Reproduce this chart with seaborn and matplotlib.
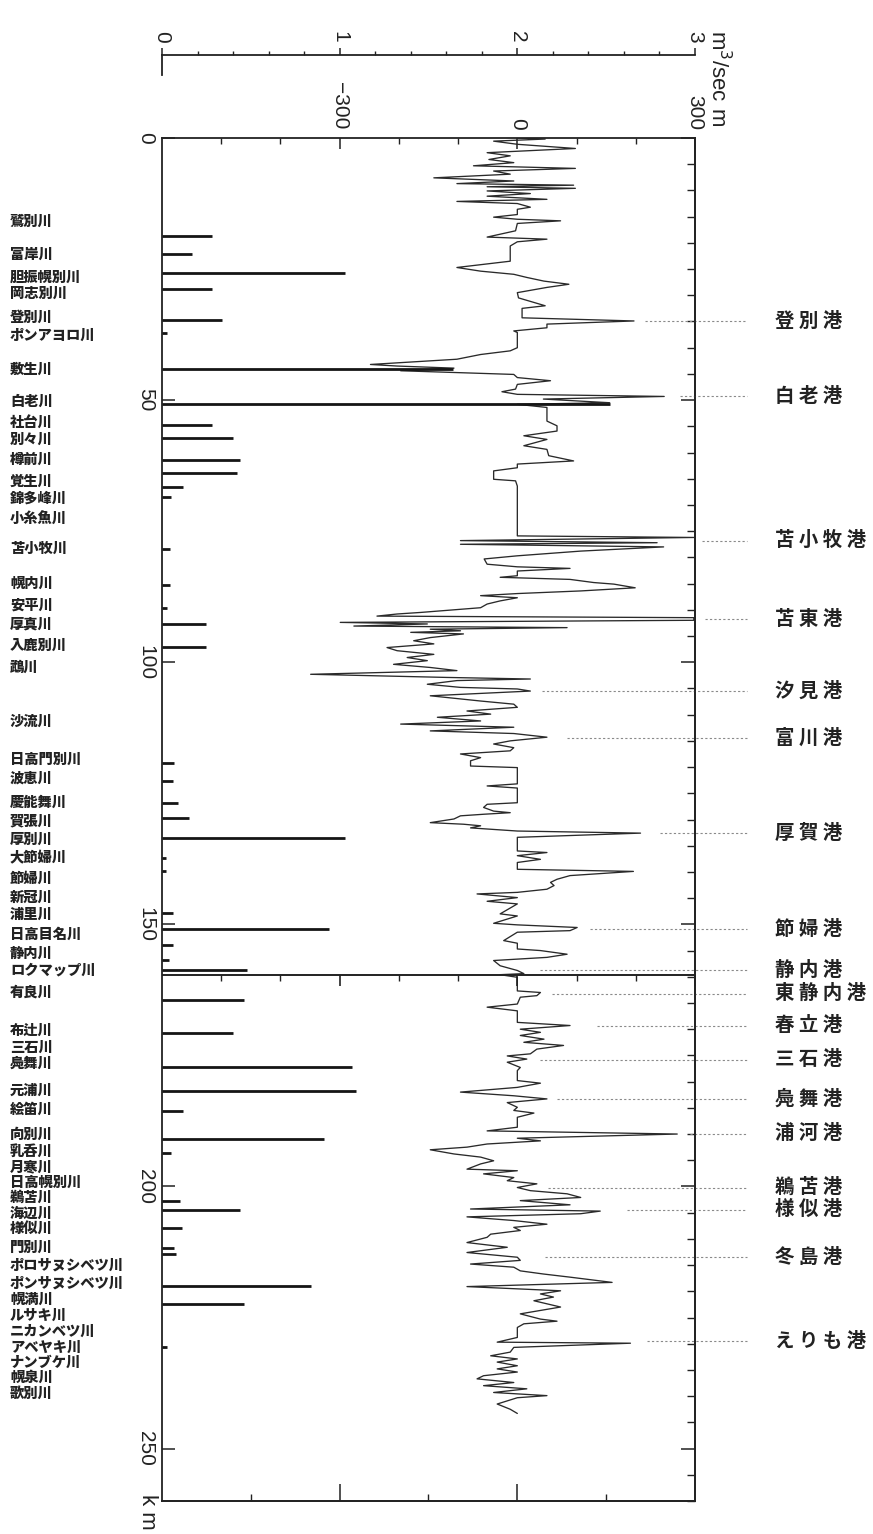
import numpy as np
import pandas as pd
import matplotlib
matplotlib.use("Agg")
import matplotlib.pyplot as plt
import matplotlib.transforms as mtransforms
from matplotlib.markers import TICKDOWN
import seaborn as sns

# ---------------- data ----------------
# shoreline change (m) along the coast (km)
coast_km = [0.0, 0.2, 0.6, 1.2, 2.0, 2.8, 3.4, 4.1, 4.7, 5.3, 5.8, 6.3, 6.9, 7.6, 8.2, 8.7, 9.0, 9.3, 9.6,
            10.1, 10.6, 11.1, 11.7, 12.1, 12.5, 13.2, 13.6, 14.6, 15.1, 15.5, 15.8, 16.3, 17.7, 18.9, 19.3,
            19.8, 20.6, 23.5, 24.7, 25.4, 26.0, 26.6, 27.3, 27.9, 28.5, 29.5, 30.5, 32.0, 32.5, 34.3, 34.9,
            35.5, 36.2, 36.8, 37.1, 40.0, 40.6, 41.3, 42.2, 43.2, 43.5, 43.9, 44.4, 45.1, 45.7, 46.3, 47.0,
            47.9, 48.4, 48.9, 49.3, 49.8, 50.5, 50.8, 51.4, 54.0, 54.9, 55.9, 56.8, 57.5, 58.7, 59.4, 60.6,
            61.6, 62.2, 62.9, 63.5, 65.1, 65.4, 66.4, 75.9, 76.2, 76.8, 77.2, 77.5, 78.0, 78.8, 79.7, 80.3,
            81.3, 81.8, 82.1, 82.6, 83.5, 83.8, 84.2, 84.8, 85.1, 85.8, 86.4, 86.9, 87.3, 87.7, 88.3, 88.9,
            89.6, 90.5, 90.8, 91.2, 91.5, 92.0, 92.4, 92.7, 93.1, 93.4, 93.7, 94.0, 94.3, 94.6, 95.3, 95.9,
            96.5, 97.2, 97.8, 98.5, 99.1, 99.7, 100.4, 101.0, 101.6, 102.3, 102.9, 103.2, 103.5, 104.2,
            104.8, 105.1, 105.5, 106.4, 107.4, 108.0, 108.6, 109.3, 109.9, 110.5, 111.2, 111.8, 112.4,
            113.1, 113.6, 114.3, 115.0, 115.6, 116.3, 116.9, 117.5, 118.2, 118.8, 119.8, 120.1, 123.2,
            123.6, 124.0, 126.8, 127.1, 127.7, 128.4, 128.7, 129.0, 129.3, 129.9, 130.6, 130.9, 131.2,
            131.6, 132.2, 132.6, 133.4, 136.0, 136.3, 136.9, 137.6, 138.2, 139.5, 139.9, 140.7, 141.4,
            142.0, 142.6, 143.3, 143.9, 144.2, 144.9, 145.6, 146.1, 148.0, 148.4, 149.8, 150.1, 150.6,
            151.2, 151.5, 153.1, 153.6, 154.7, 155.0, 155.7, 156.3, 156.9, 157.9, 158.8, 159.4, 159.6,
            160.1, 162.7, 163.0, 163.6, 163.9, 165.2, 165.8, 166.5, 168.7, 169.3, 170.0, 170.6, 171.2,
            171.9, 172.5, 173.1, 173.8, 174.7, 175.1, 175.7, 176.3, 177.3, 177.9, 179.8, 180.3, 181.1,
            182.0, 182.7, 183.3, 184.0, 184.9, 185.5, 186.0, 186.8, 188.7, 189.4, 190.0, 190.8, 191.3,
            191.9, 192.5, 193.0, 193.8, 194.4, 195.1, 195.7, 196.7, 197.0, 197.6, 198.3, 198.9, 199.5,
            200.2, 200.8, 201.4, 202.1, 202.7, 203.5, 204.3, 204.7, 205.2, 205.8, 206.5, 207.2, 207.8,
            208.4, 209.1, 209.7, 210.7, 211.6, 212.6, 213.5, 214.1, 214.8, 215.4, 216.1, 216.7, 217.3,
            218.3, 219.1, 219.9, 220.5, 221.1, 221.8, 223.0, 224.3, 225.3, 225.7, 226.2, 226.9, 228.8,
            229.7, 229.9, 230.7, 231.6, 232.3, 232.9, 233.5, 234.2, 234.8, 235.4, 236.1, 236.7, 237.4,
            238.0, 238.6, 239.3, 239.9, 240.3, 241.5, 242.5, 243.3]
coast_m = [0, 47, -40, 0, 98, -51, -12, -48, -6, -74, 98, -40, -12, -141, -6, -102, 95, -51, 98,
           -51, 22, -51, 50, -102, 0, 22, 0, 0, -40, 0, 73, 0, -3, -51, 50,
           0, -12, -12, -102, -62, -6, 16, 45, 87, 50, 0, 2, 47, 8, 8, 197,
           50, 50, -6, 0, 0, -12, -62, -102, -248, -203, -107, -197, -6, 0, 56, 0,
           -3, -26, 0, 248, 44, 156, 0, 50, 50, 67, 67, 11, 50, 11, 50, 53,
           95, 0, 0, -40, -40, -3, 0, 0, 298, -96, 236, -96, 247, 107, 0, -56,
           -51, 0, 89, 0, 0, -29, 89, 129, 163, 199, 107, 0, -62, 0, -29, -51,
           -62, -163, -203, -237, 298, 298, -299, -152, -276, 84, -147, -96, -180, -91, -147, -175,
           -141, -220, -203, -141, -186, -152, -209, -147, -102, -349, -119, 22, -102, -152,
           -96, 0, 22, -147, -62, -6, 0, -85, -45, -135, -62, -197, -6,
           -147, -6, 50, -12, -40, -6, -12, -96, -62, -79, -79, 0, 0,
           -51, 0, 0, -51, -57, -40, -12, -57, -96, -107, -147, -91, -62,
           -79, 0, 208, 0, 0, 50, 0, 39, 0, 0, 196, 89, 67,
           56, 62, 50, 0, -68, 0, -51, 0, -29, 0, -40, 0, 101,
           89, 0, -23, 0, 0, 39, 84, 50, -40, -29, 0, 11, -29,
           0, 0, 39, 33, 5, 0, -51, 0, 0, 89, 5, 39, 5,
           45, 11, 78, 33, 22, -17, 16, -17, 5, 0, 0, 39, 0,
           -96, -6, 50, -17, 0, -6, 28, 0, 0, -51, 270, 0, 39,
           -51, -85, -147, -107, -62, -40, -62, -85, 0, -57, -6, -17, 33,
           0, 22, 84, 107, 5, 89, -79, 140, 107, -85, -6, 50, -6,
           5, -45, -51, -85, -17, -85, 0, 5, -79, -6, 5, 44, 89,
           160, -85, 73, 39, 61, 28, 73, 5, 39, 67, 11, 0, 0,
           -34, 191, -6, -12, -45, 0, -34, 0, -34, 0, -57, -68, -6,
           -57, 16, -40, 50, 0, -34, -12, 0]

# river discharge (m3/sec) at river-mouth position (km)
river_km = [18.7, 22.1, 25.7, 28.8, 34.7, 37.2, 44.1, 50.7, 54.7, 57.2, 61.4, 63.9, 66.6, 68.5, 78.4,
            85.2, 89.6, 92.7, 97.1, 119.2, 122.6, 126.8, 129.7, 133.5, 137.3, 139.8, 147.8, 150.8, 153.9,
            156.8, 158.7, 164.4, 170.7, 177.3, 181.7, 185.7, 190.9, 193.6, 202.7, 204.4, 207.9, 211.7,
            212.8, 218.9, 222.4, 230.7]
river_q = [0.28, 0.17, 1.03, 0.28, 0.34, 0.03, 1.64, 2.52, 0.28, 0.40, 0.44, 0.42, 0.12, 0.05, 0.045,
           0.045, 0.03, 0.25, 0.25, 0.07, 0.06, 0.09, 0.15, 1.03, 0.02, 0.02, 0.06, 0.94, 0.06,
           0.04, 0.48, 0.46, 0.40, 1.07, 1.09, 0.12, 0.91, 0.05, 0.10, 0.44, 0.11, 0.07,
           0.08, 0.84, 0.46, 0.03]

river_names = ['鷲別川', '富岸川', '胆振幌別川', '岡志別川', '登別川', 'ポンアヨロ川', '敷生川', '白老川',
               '社台川', '別々川', '樽前川', '覚生川', '錦多峰川', '小糸魚川', '苫小牧川', '幌内川', '安平川',
               '厚真川', '入鹿別川', '鵡川', '沙流川', '日高門別川', '波恵川', '慶能舞川', '賀張川', '厚別川',
               '大節婦川', '節婦川', '新冠川', '浦里川', '日高目名川', '静内川', 'ロクマップ川', '有良川',
               '布辻川', '三石川', '鳧舞川', '元浦川', '絵笛川', '向別川', '乳呑川', '月寒川', '日高幌別川',
               '鵜苫川', '海辺川', '様似川', '門別川', 'ポロサヌシベツ川', 'ポンサヌシベツ川', '幌満川',
               'ルサキ川', 'ニカンベツ川', 'アベヤキ川', 'ナンブケ川', '幌泉川', '歌別川']
river_label_km = [16.0, 22.3, 26.7, 29.7, 34.3, 37.8, 44.2, 50.3, 54.3, 57.6, 61.4, 65.6, 68.8, 72.8,
                  78.4, 85.0, 89.2, 92.9, 96.9, 101.1, 111.4, 118.6, 122.2, 126.8, 130.4, 133.9, 137.5,
                  141.3, 144.9, 148.2, 152.0, 155.6, 158.8, 163.0, 170.3, 173.5, 176.6, 181.7, 185.4,
                  190.1, 193.4, 196.4, 199.3, 202.1, 205.2, 208.1, 211.7, 215.1, 218.5, 221.6, 224.6,
                  227.7, 230.7, 233.6, 236.5, 239.5]

port_names = ['登別港', '白老港', '苫小牧港', '苫東港', '汐見港', '富川港', '厚賀港', '節婦港', '静内港',
              '東静内港', '春立港', '三石港', '鳧舞港', '浦河港', '鵜苫港', '様似港', '冬島港', 'えりも港']
port_km = [35.0, 49.3, 76.8, 91.8, 105.5, 114.5, 132.6, 150.9, 158.7, 163.2, 169.3, 175.8, 183.4,
           189.9, 200.2, 204.4, 213.5, 229.5]
port_leader_from_m = [216, 275, 312, 317, 42, 84, 241, 123, 39, 59, 135, 39, 67, 292, 51, 186, 47, 219]

section_break_km = 159.6
km_ticks = [0, 50, 100, 150, 200, 250]
m_ticks = [-300, 0, 300]
q_ticks = [0, 1, 2, 3]

# ---------------- style ----------------
sns.set_theme(style="white")
plt.rcParams['font.family'] = ['Liberation Sans', 'Noto Sans CJK JP']
plt.rcParams['axes.linewidth'] = 1.3
INK = '#222222'
CJK = ['Noto Sans CJK JP', 'DejaVu Sans']

W, H = 873, 1534
fig = plt.figure(figsize=(W / 100, H / 100), dpi=100)
fig.patch.set_facecolor('white')

L, R, T, B = 162, 695, 138, 1501
ax = fig.add_axes([L / W, 1 - B / H, (R - L) / W, (B - T) / H])
ax.set_facecolor('white')
ax.set_xlim(-600, 300)
ax.set_ylim(260, 0)

# twin scale for river discharge (m3/sec), created first so it does not move ax's ticks later
axq = ax.twiny()
axq.set_xlim(0, 3)
axq.axis('off')

for s in ax.spines.values():
    s.set_color(INK)
    s.set_linewidth(1.3)

# shoreline change line
df = pd.DataFrame({'km': coast_km, 'm': coast_m})
sns.lineplot(data=df, x='m', y='km', sort=False, estimator=None, orient='y',
             ax=ax, color='#2a2a2a', linewidth=0.95)
ax.set_xlabel('')
ax.set_ylabel('')

# top ticks: shoreline scale
ax.xaxis.set_ticks_position('top')
ax.xaxis.set_label_position('top')
ax.set_xticks(m_ticks)
ax.set_xticklabels(['\u2212300', '0', '300'], rotation=-90, fontsize=15, color=INK)
ax.set_xticks([-500, -400, -200, -100, 100, 200], minor=True)
ax.tick_params(axis='x', which='major', direction='in', length=8, width=1.1, pad=6, colors=INK,
               top=True, bottom=False, labeltop=True, labelbottom=False)
ax.tick_params(axis='x', which='minor', direction='in', length=4, width=1, colors=INK,
               top=True, bottom=False)

# left ticks: distance
ax.set_yticks(km_ticks)
ax.set_yticklabels([str(v) for v in km_ticks], rotation=-90, fontsize=15, color=INK, va='center')
ax.tick_params(axis='y', which='major', direction='in', length=9, width=1.1, pad=5, colors=INK,
               left=True, right=False)

# right ticks every 5 km
axr = ax.secondary_yaxis('right')
axr.set_yticks(km_ticks)
axr.set_yticks(np.arange(0, 261, 5), minor=True)
axr.tick_params(which='major', direction='in', length=10, width=1.1, labelright=False, colors=INK)
axr.tick_params(which='minor', direction='in', length=6, width=1, colors=INK)
axr.spines['right'].set_color(INK)
axr.spines['right'].set_linewidth(1.3)

# bottom ticks every 150 m
axbt = ax.secondary_xaxis('bottom')
axbt.set_xticks([-300, 0])
axbt.set_xticks([-450, -150, 150], minor=True)
axbt.tick_params(which='major', direction='in', length=12, width=1.1, labelbottom=False, colors=INK)
axbt.tick_params(which='minor', direction='in', length=5, width=1, colors=INK)
axbt.spines['bottom'].set_color(INK)
axbt.spines['bottom'].set_linewidth(1.3)

# river discharge bars
axq.hlines(river_km, 0, river_q, colors='#151515', linewidth=2.0)

# section break line with downward ticks
ax.axhline(section_break_km, color=INK, linewidth=1.4, zorder=3)
ax.plot([-500, -400, -200, -100, 100, 200], [section_break_km] * 6, ls='none',
        marker=TICKDOWN, markersize=4, color=INK, markeredgewidth=1)
ax.plot(m_ticks, [section_break_km] * 3, ls='none',
        marker=TICKDOWN, markersize=8, color=INK, markeredgewidth=1.2)

# port leaders and labels
lc = ax.hlines(port_km, port_leader_from_m, 388, colors='#8a8a8a',
               linestyles=(0, (2, 2)), linewidth=0.8)
lc.set_clip_on(False)
btrans = mtransforms.blended_transform_factory(ax.transAxes, ax.transData)
for name, k in zip(port_names, port_km):
    ax.text(1.150, k, ' '.join(name), transform=btrans, ha='left', va='center',
            fontsize=14, family=CJK, fontweight='bold', color=INK)

# river labels
for name, k in zip(river_names, river_label_km):
    ax.text(-0.2852, k, name, transform=btrans, ha='left', va='center',
            fontsize=10.3, family=CJK, fontweight='heavy', color=INK)

# top scale for discharge (separate axis line above the frame)
axs = fig.add_axes([L / W, 1 - 75 / H, (R - L) / W, 20 / H])
axs.set_xlim(0, 3)
axs.patch.set_alpha(0)
axs.spines['bottom'].set_visible(False)
axs.spines['right'].set_visible(False)
axs.spines['top'].set_color(INK)
axs.spines['left'].set_color(INK)
axs.spines['top'].set_linewidth(1.3)
axs.spines['left'].set_linewidth(1.3)
axs.set_yticks([])
axs.xaxis.set_ticks_position('top')
axs.set_xticks(q_ticks)
axs.set_xticklabels([str(v) for v in q_ticks], rotation=-90, fontsize=15, color=INK)
axs.set_xticks(np.arange(0, 3.01, 0.2), minor=True)
axs.tick_params(axis='x', which='major', direction='out', length=5, width=1.1, pad=4, colors=INK,
                top=True, bottom=False, labeltop=True, labelbottom=False)
axs.tick_params(axis='x', which='minor', direction='out', length=3, width=1, colors=INK,
                top=True, bottom=False)

# unit labels
fig.text(718 / W, 1 - 66 / H, 'm$^3$/sec', rotation=-90, ha='center', va='center',
         fontsize=16, color=INK)
fig.text(716 / W, 1 - 118 / H, 'm', rotation=-90, ha='center', va='center',
         fontsize=16, color=INK)
fig.text(148 / W, 1 - 1512 / H, 'k m', rotation=-90, ha='center', va='center',
         fontsize=16, color=INK)

fig.savefig('out.png', dpi=100, facecolor='white')
